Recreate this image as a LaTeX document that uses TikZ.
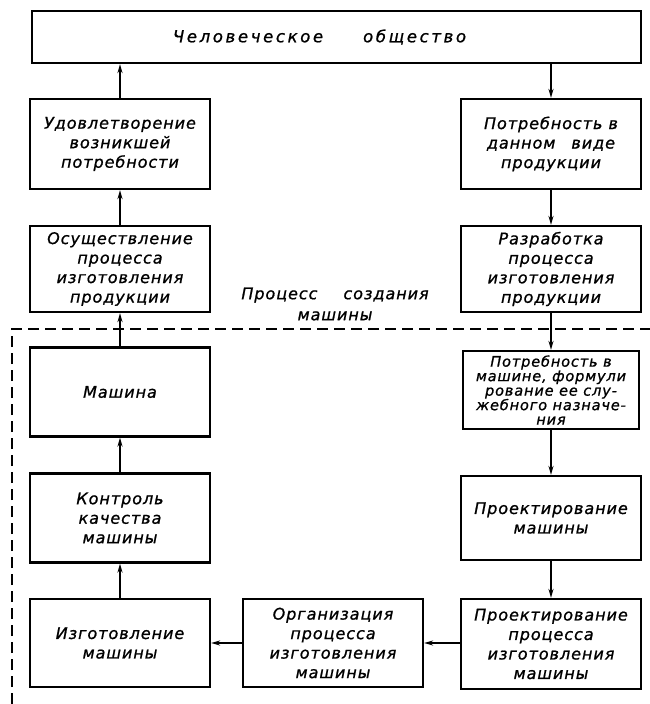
\documentclass[tikz,border=0pt]{standalone}
\usepackage{fontspec}
\setmainfont{DejaVu Sans}[LetterSpace=6, FakeBold=1]
\usepackage{tikz}
\usetikzlibrary{arrows.meta}
\tikzset{
  blok/.style={draw, line width=2.2pt, minimum width=180pt, align=center, inner sep=2pt,
    font=\itshape\fontsize{16}{19.5}\selectfont},
  strelka/.style={-{Stealth[length=9pt,width=5pt]}, line width=1.6pt},
  ramka/.style={line width=1.6pt, dash pattern=on 11pt off 6pt}
}
\newcommand{\blok}[5]{\node[blok, minimum height=#4] (#1) at ( #2 , #3 ) {#5};}

\begin{document}
\begin{tikzpicture}[x=1pt,y=-1pt]
        \useasboundingbox (0,0) rectangle (650,704);
        % top
        \node[blok, minimum width=609pt, minimum height=52pt,
              font=\itshape\fontsize{16.5}{19.5}\selectfont\addfontfeature{LetterSpace=16}] (obshestvo) at (336.5,37)
            {Человеческое\hspace{40pt}общество\hspace*{34pt}};
        % left column
        \blok{udovl}{120}{144}{90pt}{Удовлетворение\\возникшей\\потребности}
        \blok{osush}{120}{269}{86pt}{Осуществление\\процесса\\изготовления\\продукции}
        \blok{mashina}{120}{392}{89pt}{Машина}
        \blok{kontrol}{120}{518}{89pt}{Контроль\\качества\\машины}
        \blok{izgot}{120}{643}{88pt}{Изготовление\\машины}
        % right column
        \blok{potreb}{551}{144}{90pt}{Потребность в\\данном\quad виде\\продукции}
        \blok{razrab}{551}{269}{86pt}{Разработка\\процесса\\изготовления\\продукции}
        \node[blok, minimum width=176pt, minimum height=78pt, inner sep=1pt,
              font=\itshape\fontsize{14.5}{14.5}\selectfont] (potrmash) at (551,390)
            {Потребность в\\машине, формули\\рование ее слу-\\жебного назначе-\\ния};
        \blok{proekt}{551}{518}{84pt}{Проектирование\\машины}
        \blok{proektproc}{551}{644}{90pt}{Проектирование\\процесса\\изготовления\\машины}
        % bottom middle
        \blok{organiz}{333}{643}{88pt}{Организация\\процесса\\изготовления\\машины}
        % frame of the machine process
        \node[align=center, font=\itshape\fontsize{16}{21}\selectfont] (protsess) at (335,304)
            {Процесс\hspace{26pt}создания\\машины};
        \draw[ramka] (12,704) -- (12,329) -- (650,329);
        % arrows
        \draw[strelka] (udovl.north) -- (obshestvo.south -| udovl.north);
        \draw[strelka] (obshestvo.south -| potreb.north) -- (potreb.north);
        \draw[strelka] (osush.north) -- (udovl.south);
        \draw[strelka] (potreb.south) -- (razrab.north);
        \draw[strelka] (mashina.north) -- (osush.south);
        \draw[strelka] (razrab.south) -- (potrmash.north);
        \draw[strelka] (kontrol.north) -- (mashina.south);
        \draw[strelka] (potrmash.south) -- (proekt.north);
        \draw[strelka] (izgot.north) -- (kontrol.south);
        \draw[strelka] (proekt.south) -- (proektproc.north);
        \draw[strelka] (proektproc.west |- organiz.east) -- (organiz.east);
        \draw[strelka] (organiz.west) -- (organiz.west -| izgot.east);
\end{tikzpicture}
\end{document}
